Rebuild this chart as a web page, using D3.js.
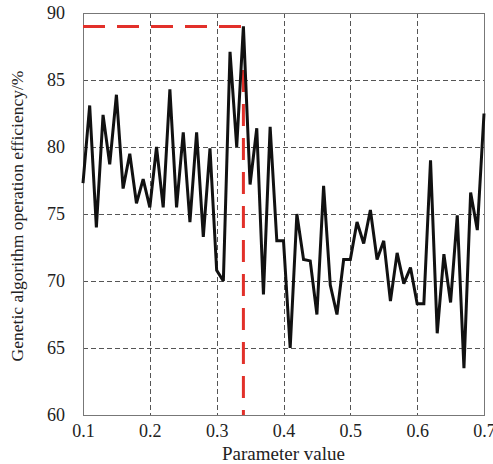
<!DOCTYPE html>
<html>
<head>
<meta charset="utf-8">
<script src="https://cdn.jsdelivr.net/npm/d3@7/dist/d3.min.js"></script>
<style>
  body { margin: 0; background: #fff; }
  svg { display: block; font-family: "Liberation Serif", "Times New Roman", serif; }
</style>
</head>
<body>
<div id="chart"></div>
<script>
// parameter values 0.10 .. 0.70, step 0.01
var params = d3.range(61).map(function(i) { return +(0.1 + i * 0.01).toFixed(2); });
var efficiency = [
    77.3, 83.1, 74.0, 82.4, 78.7, 83.9, 76.9, 79.5, 75.8, 77.6,
    75.5, 80.0, 75.5, 84.3, 75.5, 81.1, 74.4, 81.1, 73.3, 79.9,
    70.8, 70.0, 87.1, 80.0, 89.0, 77.2, 81.4, 69.0, 81.5, 73.0,
    73.0, 65.0, 75.0, 71.6, 71.5, 67.5, 77.1, 69.7, 67.5, 71.6,
    71.6, 74.4, 72.8, 75.3, 71.6, 73.0, 68.5, 72.1, 69.8, 71.0,
    68.3, 68.3, 79.0, 66.1, 72.0, 68.4, 74.9, 63.5, 76.6, 73.8,
    82.5
];
var xTicks = [0.1, 0.2, 0.3, 0.4, 0.5, 0.6, 0.7];
var yTicks = [60, 65, 70, 75, 80, 85, 90];
var bestParam = 0.34, bestValue = 89;

var W = 493, H = 464;
var margin = {left: 83, right: 9, top: 13, bottom: 49};
var w = W - margin.left - margin.right, h = H - margin.top - margin.bottom;

var svg = d3.select('#chart').append('svg').attr('width', W).attr('height', H);
var g = svg.append('g').attr('transform', 'translate(' + margin.left + ',' + margin.top + ')');

var x = d3.scaleLinear().domain([0.1, 0.7]).range([0, w]);
var y = d3.scaleLinear().domain([60, 90]).range([h, 0]);

// grid
g.append('g').selectAll('line').data(xTicks.slice(1, -1)).enter().append('line')
    .attr('x1', function(d) { return Math.round(x(d)) + 0.5; })
    .attr('x2', function(d) { return Math.round(x(d)) + 0.5; })
    .attr('y1', 0).attr('y2', h)
    .style('stroke', '#555').style('stroke-width', 1).style('stroke-dasharray', '5,3');
g.append('g').selectAll('line').data(yTicks.slice(1, -1)).enter().append('line')
    .attr('y1', function(d) { return Math.round(y(d)) + 0.5; })
    .attr('y2', function(d) { return Math.round(y(d)) + 0.5; })
    .attr('x1', 0).attr('x2', w)
    .style('stroke', '#555').style('stroke-width', 1).style('stroke-dasharray', '5,3');

// axes (labels only, frame drawn separately)
var xAxis = g.append('g').attr('transform', 'translate(0,' + h + ')')
    .call(d3.axisBottom(x).tickValues(xTicks).tickSize(0).tickPadding(9).tickFormat(d3.format('.1f')));
var yAxis = g.append('g')
    .call(d3.axisLeft(y).tickValues(yTicks).tickSize(0).tickPadding(18).tickFormat(d3.format('d')));
[xAxis, yAxis].forEach(function(a) {
    a.select('.domain').remove();
    a.selectAll('text').style('font-size', '18px').style('fill', '#222')
        .style('font-family', '"Liberation Serif", serif');
});

// frame
g.append('rect').attr('x', 0.5).attr('y', 0.5).attr('width', w).attr('height', h)
    .style('fill', 'none').style('stroke', '#777').style('stroke-width', 1);

// red marker of the best parameter
var marker = [[0.1, bestValue], [bestParam, bestValue], [bestParam, 60]];
g.append('path')
    .attr('d', d3.line().x(function(d) { return x(d[0]); }).y(function(d) { return y(d[1]); })(marker))
    .style('fill', 'none').style('stroke', '#e2302a').style('stroke-width', 3)
    .style('stroke-dasharray', '22,12');

// efficiency curve
var line = d3.line()
    .x(function(d, i) { return x(params[i]); })
    .y(function(d) { return y(d); });
g.append('path').attr('d', line(efficiency))
    .style('fill', 'none').style('stroke', '#111').style('stroke-width', 3)
    .style('stroke-linejoin', 'miter').style('stroke-miterlimit', 3);

// axis titles
svg.append('text').attr('x', margin.left + w / 2).attr('y', 460)
    .attr('text-anchor', 'middle').style('font-size', '19px').style('fill', '#222')
    .text('Parameter value');
svg.append('text').attr('transform', 'translate(23,216) rotate(-90)')
    .attr('text-anchor', 'middle').style('font-size', '17.5px').style('fill', '#222')
    .text('Genetic algorithm operation efficiency/%');
</script>
</body>
</html>
